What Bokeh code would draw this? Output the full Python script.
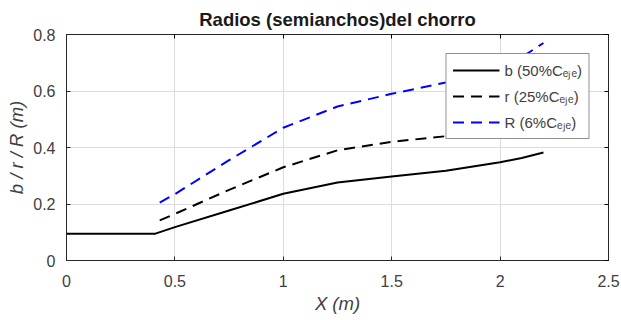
from bokeh.plotting import figure
from bokeh.models import Range1d, LinearAxis, FixedTicker, Legend, LegendItem
from bokeh.embed import file_html
from bokeh.resources import INLINE

x_b = [0, 0.41, 0.5, 0.75, 1.0, 1.25, 1.5, 1.75, 2.0, 2.1, 2.2]
b_vals = [0.095, 0.095, 0.118, 0.177, 0.236, 0.276, 0.297, 0.318, 0.348, 0.363, 0.382]
x_r = [0.43, 0.5, 0.75, 1.0, 1.25, 1.5, 1.75, 2.0, 2.2]
r_vals = [0.142, 0.165, 0.25, 0.33, 0.39, 0.42, 0.44, 0.45, 0.46]
x_R = [0.43, 0.5, 0.75, 1.0, 1.25, 1.5, 1.75, 2.0, 2.1, 2.2]
R_vals = [0.205, 0.235, 0.355, 0.47, 0.545, 0.59, 0.63, 0.685, 0.72, 0.77]
x_ticks = [0, 0.5, 1, 1.5, 2, 2.5]
y_ticks = [0, 0.2, 0.4, 0.6, 0.8]
labels = ["b (50%C\u2091\u2c7c\u2091)", "r (25%C\u2091\u2c7c\u2091)", "R (6%C\u2091\u2c7c\u2091)"]

FONT = "Liberation Sans"
GRAY = "#404040"

p = figure(width=621, height=320, output_backend="svg", toolbar_location=None,
           x_range=Range1d(0, 2.5), y_range=Range1d(0, 0.8),
           min_border_left=66, min_border_right=13, min_border_top=34, min_border_bottom=60,
           title="Radios (semianchos)del chorro")
p.title.align = "center"
p.title.text_font = FONT
p.title.text_font_size = "18.5px"
p.title.text_font_style = "bold"
p.title.text_color = "#1a1a1a"
p.outline_line_color = "#262626"
p.outline_line_width = 1

for ax in (p.xaxis[0], p.yaxis[0]):
    ax.major_label_text_font = FONT
    ax.major_label_text_font_size = "16px"
    ax.major_label_text_color = GRAY
    ax.axis_label_text_font = FONT
    ax.axis_label_text_font_size = "18.5px"
    ax.axis_label_text_font_style = "italic"
    ax.axis_label_text_color = GRAY
    ax.major_tick_in = 4
    ax.major_tick_out = 0
    ax.minor_tick_in = 0
    ax.minor_tick_out = 0
    ax.axis_line_color = "#262626"
    ax.major_tick_line_color = "#262626"
p.xaxis[0].ticker = FixedTicker(ticks=x_ticks)
p.yaxis[0].ticker = FixedTicker(ticks=y_ticks)
p.xaxis[0].axis_label = "X (m)"
p.yaxis[0].axis_label = "b / r / R (m)"
p.xaxis[0].major_label_standoff = 14
p.yaxis[0].major_label_standoff = 11
p.xaxis[0].axis_label_standoff = 3
p.yaxis[0].axis_label_standoff = 3

for loc in ("above", "right"):
    ax = LinearAxis(ticker=FixedTicker(ticks=x_ticks if loc == "above" else y_ticks),
                    major_label_text_font_size="0px", major_tick_in=4, major_tick_out=0,
                    minor_tick_in=0, minor_tick_out=0, axis_line_color="#262626",
                    major_label_text_alpha=0)
    p.add_layout(ax, loc)

p.grid.grid_line_color = "#dcdcdc"
p.grid.grid_line_width = 1
p.xgrid.ticker = FixedTicker(ticks=x_ticks)
p.ygrid.ticker = FixedTicker(ticks=y_ticks)

lb = p.line(x_b, b_vals, line_color="black", line_width=2)
lr = p.line(x_r, r_vals, line_color="black", line_width=2, line_dash="11 7")
lR = p.line(x_R, R_vals, line_color="blue", line_width=2, line_dash="11 7")

legend = Legend(items=[LegendItem(label=labels[0], renderers=[lb]),
                       LegendItem(label=labels[1], renderers=[lr]),
                       LegendItem(label=labels[2], renderers=[lR])],
                location="top_right")
legend.label_text_font = FONT
legend.label_text_font_size = "15px"
legend.label_text_color = GRAY
legend.border_line_color = "#262626"
legend.border_line_width = 1
legend.background_fill_alpha = 1
legend.glyph_width = 47
legend.glyph_height = 20
legend.label_height = 20
legend.spacing = 6
legend.padding = 6
legend.margin = 19
legend.label_standoff = 5
p.add_layout(legend)

open("out.html", "w").write(file_html(p, INLINE))
